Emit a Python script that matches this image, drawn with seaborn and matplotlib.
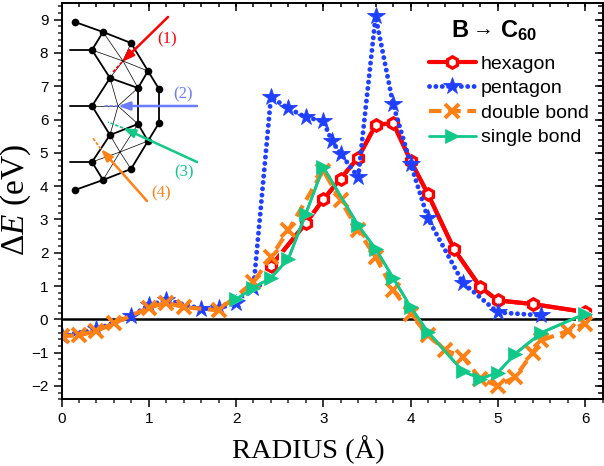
import matplotlib
matplotlib.use("Agg")
import matplotlib.pyplot as plt
import seaborn as sns
import pandas as pd
import numpy as np
from matplotlib.ticker import MultipleLocator

hex_r = [2.4, 2.8, 3.0, 3.2, 3.4, 3.6, 3.8, 4.0, 4.2, 4.5, 4.8, 5.0, 5.4, 6.0]
hex_e = [1.6, 2.89, 3.6, 4.23, 4.86, 5.83, 5.9, 4.77, 3.76, 2.1, 0.97, 0.57, 0.46, 0.22]

pent_r = [0.0, 0.4, 0.8, 1.0, 1.2, 1.6, 1.8, 2.0, 2.2, 2.4, 2.6, 2.8, 3.0, 3.1, 3.2, 3.4, 3.6, 3.8, 4.0, 4.2, 4.6, 5.0, 5.5]
pent_e = [-0.5, -0.3, 0.1, 0.42, 0.58, 0.32, 0.33, 0.5, 0.95, 6.67, 6.34, 6.07, 5.95, 5.35, 4.97, 4.27, 9.1, 6.46, 4.68, 3.03, 1.1, 0.21, 0.12]

dbl_r = [0.0, 0.2, 0.4, 0.6, 1.0, 1.2, 1.4, 1.8, 2.2, 2.4, 2.6, 3.0, 3.2, 3.4, 3.6, 3.8, 4.0, 4.2, 4.4, 4.6, 4.8, 5.0, 5.2, 5.4, 5.5, 5.8, 6.0]
dbl_e = [-0.5, -0.48, -0.35, -0.12, 0.35, 0.5, 0.37, 0.27, 1.12, 1.87, 2.67, 4.47, 3.57, 2.67, 1.87, 0.89, 0.17, -0.48, -0.93, -1.13, -1.78, -2.0, -1.73, -1.0, -0.63, -0.35, -0.13]

sgl_r = [2.0, 2.2, 2.4, 2.6, 2.8, 3.0, 3.4, 3.6, 3.8, 4.0, 4.2, 4.6, 4.8, 5.0, 5.2, 5.5, 6.0]
sgl_e = [0.6, 0.95, 1.25, 1.82, 3.17, 4.57, 2.82, 2.12, 1.25, 0.37, -0.38, -1.56, -1.78, -1.6, -1.03, -0.4, 0.17]

x_ticks = [0, 1, 2, 3, 4, 5, 6]
y_ticks = [-2, -1, 0, 1, 2, 3, 4, 5, 6, 7, 8, 9]

RED = "#ff0000"
BLUE = "#2040ff"
ORANGE = "#ff8015"
GREEN = "#10c888"

# C60 sketch, in pixels of the picture
nodes = {
    "a": (75, 22), "b": (103, 32), "c": (131, 43), "d": (148, 71), "e": (159, 89),
    "f": (159, 123), "g": (148, 141), "h": (131, 169), "i": (103, 180), "j": (75, 190),
    "k": (92, 50), "l": (110, 78), "m": (138, 88), "n": (92, 106), "o": (138, 124),
    "p": (110, 135), "q": (92, 162),
}
thick_edges = ["ab", "bc", "cd", "de", "ef", "fg", "gh", "hi", "ij", "bk", "kl", "lm", "md",
               "ln", "np", "po", "og", "mo", "pq", "qi"]
stubs = [((70, 50), "k"), ((70, 106), "n"), ((70, 162), "q")]
thin_spokes = [((123, 61), "bckdlm"), ((118, 106), "lmnop"), ((120, 152), "pogqih")]
arrows = [
    ((168, 17), (122, 62), (113, 72), "#ff0000"),
    ((197, 106), (118, 106), (103, 106), "#6a7cff"),
    ((197, 162), (123, 128), (108, 122), "#10c888"),
    ((147, 201), (101, 149), (92, 137), "#ff8015"),
]
arrow_labels = [("(1)", 167, 39, "#ff0000"), ("(2)", 183, 94, "#6a7cff"),
                ("(3)", 184, 172, "#10c888"), ("(4)", 161, 193, "#ff8015")]

sns.set_style("white")
plt.rcParams["font.family"] = ["Liberation Sans", "DejaVu Sans"]
plt.rcParams["text.color"] = "black"
plt.rcParams["mathtext.fontset"] = "custom"
plt.rcParams["mathtext.rm"] = "Liberation Serif"
plt.rcParams["mathtext.it"] = "Liberation Serif:italic"
plt.rcParams["mathtext.bf"] = "Liberation Sans:bold"

fig = plt.figure(figsize=(6.04, 4.66), dpi=100)
ax_pos = [61.5 / 604, 1 - 399.3 / 466, 541 / 604, 396.3 / 466]
ax = fig.add_axes(ax_pos)

ax.axhline(0, color="black", lw=1.8, zorder=1.5)

df_hex = pd.DataFrame({"r": hex_r, "e": hex_e})
df_pent = pd.DataFrame({"r": pent_r, "e": pent_e})
df_dbl = pd.DataFrame({"r": dbl_r, "e": dbl_e})
df_sgl = pd.DataFrame({"r": sgl_r, "e": sgl_e})

# hexagon: white halo under the marker leaves the small gap in the line
sns.lineplot(data=df_hex, x="r", y="e", ax=ax, color=RED, lw=3, legend=False)
sns.lineplot(data=df_hex, x="r", y="e", ax=ax, linestyle="none", marker="h", markersize=12.5,
             markerfacecolor="white", markeredgecolor="white", markeredgewidth=0, legend=False)
sns.lineplot(data=df_hex, x="r", y="e", ax=ax, color=RED, lw=3, marker="h", markersize=8.2,
             markerfacecolor="white", markeredgecolor=RED, markeredgewidth=2.4, label="hexagon")

sns.lineplot(data=df_pent, x="r", y="e", ax=ax, color=BLUE, lw=3.5, linestyle=(0, (0.01, 1.3)),
             marker="*", markersize=13, markerfacecolor=BLUE, markeredgecolor=BLUE,
             markeredgewidth=0.6, label="pentagon")
ax.lines[-1].set_dash_capstyle("round")

# single bond line goes under the crosses, its markers on top
sns.lineplot(data=df_sgl, x="r", y="e", ax=ax, color=GREEN, lw=2, legend=False)
sns.lineplot(data=df_sgl, x="r", y="e", ax=ax, linestyle="none", marker=">", markersize=13,
             markerfacecolor="white", markeredgecolor="white", markeredgewidth=0, legend=False)

sns.lineplot(data=df_dbl, x="r", y="e", ax=ax, color=ORANGE, lw=3, linestyle=(0, (3, 1.6)),
             marker="x", markersize=10, markeredgecolor=ORANGE, markeredgewidth=2.8,
             label="double bond")
sns.lineplot(data=df_sgl, x="r", y="e", ax=ax, color=GREEN, lw=2, marker=">", markersize=9.5,
             markerfacecolor=GREEN, markeredgecolor=GREEN, markeredgewidth=0.5, label="single bond")

ax.set_xlim(0, 6.2)
ax.set_ylim(-2.4, 9.5)
ax.set_xticks(x_ticks)
ax.set_yticks(y_ticks)
ax.xaxis.set_minor_locator(MultipleLocator(0.2))
ax.yaxis.set_minor_locator(MultipleLocator(0.2))
ax.tick_params(which="major", length=5.5, width=1.1, labelsize=11, pad=4, color="black", labelcolor="black",
               bottom=True, left=True, direction="out")
ax.tick_params(which="minor", length=3.2, width=1.1, bottom=True, left=True, direction="out")
for s in ax.spines.values():
    s.set_color("black")
    s.set_linewidth(1.4)

# top and right ticks point inwards, drawn as short lines along the frame
x_minor = np.arange(0, 6.2 + 0.01, 0.2)
y_minor = np.arange(-2.4, 9.4 + 0.01, 0.2)
ax.vlines(x_minor, 9.5 - 0.133, 9.5, color="black", lw=1.1, zorder=5)
ax.vlines(x_ticks, 9.5 - 0.229, 9.5, color="black", lw=1.1, zorder=5)
ax.hlines(y_minor, 6.2 - 0.051, 6.2, color="black", lw=1.1, zorder=5)
ax.hlines(y_ticks, 6.2 - 0.0877, 6.2, color="black", lw=1.1, zorder=5)

ax.set_xlabel("")
ax.set_ylabel("")
fig.text(308.5 / 604, 1 - 458 / 466, "RADIUS (Å)", family="Liberation Serif", fontsize=20.5,
         ha="center", va="baseline")
fig.text(16 / 604, 1 - 200 / 466, r"$\Delta E$ (eV)", family="Liberation Serif", fontsize=24,
         rotation=90, ha="center", va="center")

ax.legend(loc="upper left", bbox_to_anchor=(428.5 / 604, 1 - 55 / 466), bbox_transform=fig.transFigure,
          frameon=False, fontsize=14, handlelength=2.45, handletextpad=0.25, labelspacing=0.36,
          borderpad=0, borderaxespad=0)
fig.text(451 / 604, 1 - 31 / 466, r"$\mathbf{B}$", fontsize=17, ha="left", va="center")
fig.text(473 / 604, 1 - 31 / 466, "→", fontsize=15, family="Liberation Serif", ha="left", va="center")
fig.text(500 / 604, 1 - 31 / 466, r"$\mathbf{C_{60}}$", fontsize=17, ha="left", va="center")

# overlay in picture pixels for the molecule sketch
ov = fig.add_axes([0, 0, 1, 1], facecolor="none")
ov.set_xlim(0, 604)
ov.set_ylim(466, 0)
ov.axis("off")
for center, ends in thin_spokes:
    for n in ends:
        ov.plot([center[0], nodes[n][0]], [center[1], nodes[n][1]], color="black", lw=0.5)
for e in thick_edges:
    p, q = nodes[e[0]], nodes[e[1]]
    ov.plot([p[0], q[0]], [p[1], q[1]], color="black", lw=1.3)
for start, n in stubs:
    ov.plot([start[0], nodes[n][0]], [start[1], nodes[n][1]], color="black", lw=1.3)
ov.plot([p[0] for p in nodes.values()], [p[1] for p in nodes.values()], "o", color="black", ms=5.5, mew=0)
for tail, tip, end, col in arrows:
    ov.plot([tip[0], end[0]], [tip[1], end[1]], color=col, lw=1.2, ls=(0, (2, 1)))
    ov.annotate("", xy=tip, xytext=tail,
                arrowprops=dict(arrowstyle="-|>,head_length=0.7,head_width=0.25", color=col, lw=1.8,
                                shrinkA=0, shrinkB=0))
for txt, x, y, col in arrow_labels:
    ov.text(x, y, txt, color=col, family="Liberation Serif", fontsize=12, ha="center", va="center")

fig.savefig("out.png", dpi=100)
